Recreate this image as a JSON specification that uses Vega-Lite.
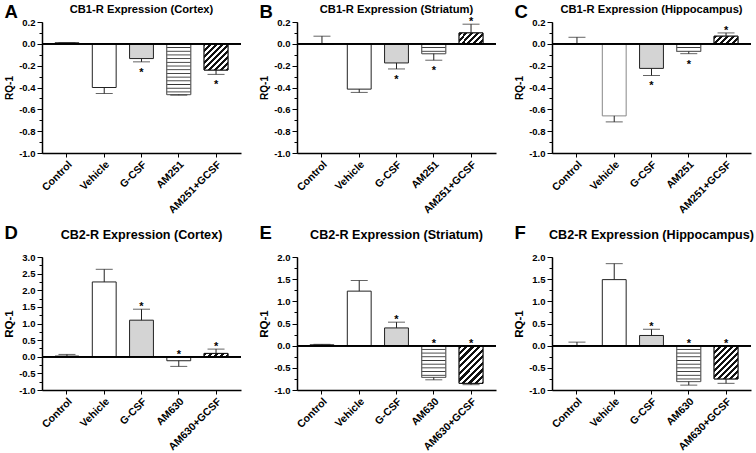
{
"$schema":"https://vega.github.io/schema/vega-lite/v6.json",
"padding":{"left":3,"top":2,"right":2,"bottom":0},
"params":[
{"name":"HS","value":[{"offset":0,"color":"#fff"},
{"offset":0.038,"color":"#fff"},{"offset":0.05,"color":"#333"},{"offset":0.062,"color":"#fff"},
{"offset":0.088,"color":"#fff"},{"offset":0.1,"color":"#333"},{"offset":0.112,"color":"#fff"},
{"offset":0.138,"color":"#fff"},{"offset":0.15,"color":"#333"},{"offset":0.162,"color":"#fff"},
{"offset":0.188,"color":"#fff"},{"offset":0.2,"color":"#333"},{"offset":0.212,"color":"#fff"},
{"offset":0.238,"color":"#fff"},{"offset":0.25,"color":"#333"},{"offset":0.262,"color":"#fff"},
{"offset":0.288,"color":"#fff"},{"offset":0.3,"color":"#333"},{"offset":0.312,"color":"#fff"},
{"offset":0.338,"color":"#fff"},{"offset":0.35,"color":"#333"},{"offset":0.362,"color":"#fff"},
{"offset":0.388,"color":"#fff"},{"offset":0.4,"color":"#333"},{"offset":0.412,"color":"#fff"},
{"offset":0.438,"color":"#fff"},{"offset":0.45,"color":"#333"},{"offset":0.462,"color":"#fff"},
{"offset":0.488,"color":"#fff"},{"offset":0.5,"color":"#333"},{"offset":0.512,"color":"#fff"},
{"offset":0.538,"color":"#fff"},{"offset":0.55,"color":"#333"},{"offset":0.562,"color":"#fff"},
{"offset":0.588,"color":"#fff"},{"offset":0.6,"color":"#333"},{"offset":0.612,"color":"#fff"},
{"offset":0.638,"color":"#fff"},{"offset":0.65,"color":"#333"},{"offset":0.662,"color":"#fff"},
{"offset":0.688,"color":"#fff"},{"offset":0.7,"color":"#333"},{"offset":0.712,"color":"#fff"},
{"offset":0.738,"color":"#fff"},{"offset":0.75,"color":"#333"},{"offset":0.762,"color":"#fff"},
{"offset":0.788,"color":"#fff"},{"offset":0.8,"color":"#333"},{"offset":0.812,"color":"#fff"},
{"offset":0.838,"color":"#fff"},{"offset":0.85,"color":"#333"},{"offset":0.862,"color":"#fff"},
{"offset":0.888,"color":"#fff"},{"offset":0.9,"color":"#333"},{"offset":0.912,"color":"#fff"},
{"offset":0.938,"color":"#fff"},{"offset":0.95,"color":"#333"},{"offset":0.962,"color":"#fff"},
{"offset":1,"color":"#fff"}]},
{"name":"DS","value":[
{"offset":0,"color":"#111"},{"offset":0.05,"color":"#111"},{"offset":0.05,"color":"#fff"},{"offset":0.1,"color":"#fff"},
{"offset":0.1,"color":"#111"},{"offset":0.15,"color":"#111"},{"offset":0.15,"color":"#fff"},{"offset":0.2,"color":"#fff"},
{"offset":0.2,"color":"#111"},{"offset":0.25,"color":"#111"},{"offset":0.25,"color":"#fff"},{"offset":0.3,"color":"#fff"},
{"offset":0.3,"color":"#111"},{"offset":0.35,"color":"#111"},{"offset":0.35,"color":"#fff"},{"offset":0.4,"color":"#fff"},
{"offset":0.4,"color":"#111"},{"offset":0.45,"color":"#111"},{"offset":0.45,"color":"#fff"},{"offset":0.5,"color":"#fff"},
{"offset":0.5,"color":"#111"},{"offset":0.55,"color":"#111"},{"offset":0.55,"color":"#fff"},{"offset":0.6,"color":"#fff"},
{"offset":0.6,"color":"#111"},{"offset":0.65,"color":"#111"},{"offset":0.65,"color":"#fff"},{"offset":0.7,"color":"#fff"},
{"offset":0.7,"color":"#111"},{"offset":0.75,"color":"#111"},{"offset":0.75,"color":"#fff"},{"offset":0.8,"color":"#fff"},
{"offset":0.8,"color":"#111"},{"offset":0.85,"color":"#111"},{"offset":0.85,"color":"#fff"},{"offset":0.9,"color":"#fff"},
{"offset":0.9,"color":"#111"},{"offset":0.95,"color":"#111"},{"offset":0.95,"color":"#fff"},{"offset":1,"color":"#fff"}]}
],
"data":{"values":[
{"panel":"A","group":"Control","value":0.01,"err":0.01,"star":""},
{"panel":"A","group":"Vehicle","value":-0.4,"err":-0.455,"star":""},
{"panel":"A","group":"G-CSF","value":-0.135,"err":-0.165,"star":"below"},
{"panel":"A","group":"AM251","value":-0.465,"err":-0.47,"star":""},
{"panel":"A","group":"AM251+GCSF","value":-0.24,"err":-0.28,"star":"below"},
{"panel":"B","group":"Control","value":0,"err":0.07,"star":""},
{"panel":"B","group":"Vehicle","value":-0.415,"err":-0.445,"star":""},
{"panel":"B","group":"G-CSF","value":-0.175,"err":-0.23,"star":"below"},
{"panel":"B","group":"AM251","value":-0.09,"err":-0.15,"star":"below"},
{"panel":"B","group":"AM251+GCSF","value":0.1,"err":0.18,"star":"above"},
{"panel":"C","group":"Control","value":0,"err":0.06,"star":""},
{"panel":"C","group":"Vehicle","value":-0.66,"err":-0.715,"star":""},
{"panel":"C","group":"G-CSF","value":-0.225,"err":-0.29,"star":"below"},
{"panel":"C","group":"AM251","value":-0.07,"err":-0.09,"star":"below"},
{"panel":"C","group":"AM251+GCSF","value":0.07,"err":0.1,"star":"above"},
{"panel":"D","group":"Control","value":0.02,"err":0.07,"star":""},
{"panel":"D","group":"Vehicle","value":2.25,"err":2.63,"star":""},
{"panel":"D","group":"G-CSF","value":1.1,"err":1.43,"star":"above"},
{"panel":"D","group":"AM630","value":-0.12,"err":-0.29,"star":"above"},
{"panel":"D","group":"AM630+GCSF","value":0.1,"err":0.23,"star":"above"},
{"panel":"E","group":"Control","value":0.02,"err":0.03,"star":""},
{"panel":"E","group":"Vehicle","value":1.23,"err":1.47,"star":""},
{"panel":"E","group":"G-CSF","value":0.4,"err":0.53,"star":"above"},
{"panel":"E","group":"AM630","value":-0.715,"err":-0.77,"star":"above"},
{"panel":"E","group":"AM630+GCSF","value":-0.85,"err":-0.88,"star":"above"},
{"panel":"F","group":"Control","value":0,"err":0.08,"star":""},
{"panel":"F","group":"Vehicle","value":1.49,"err":1.85,"star":""},
{"panel":"F","group":"G-CSF","value":0.23,"err":0.37,"star":"above"},
{"panel":"F","group":"AM630","value":-0.81,"err":-0.89,"star":"above"},
{"panel":"F","group":"AM630+GCSF","value":-0.75,"err":-0.85,"star":"above"}
]},
"columns":3,
"spacing":{"row":104,"column":56},
"bounds":"flush",
"concat":[
{"width":199,"height":131,
"title":{"text":"CB1-R Expression (Cortex)","frame":"group","offset":-13,"fontSize":11.2},
"transform":[{"filter":"datum.panel=='A'"},{"calculate":"datum.star=='above' ? max(datum.err,0) : datum.err","as":"sy"}],
"resolve":{"axis":{"y":"independent"}},
"layer":[
{"encoding":{
"x":{"field":"group","type":"nominal","scale":{"domain":["Control","Vehicle","G-CSF","AM251","AM251+GCSF"],"paddingInner":0.36,"paddingOuter":0.35},"axis":{"title":"A","titleX":-38,"titleY":-136}},
"y":{"field":"value","type":"quantitative","scale":{"domain":[-1,0.2],"nice":false,"zero":false},"axis":{"title":"RQ-1","titleFontSize":10,"values":[-1,-0.8,-0.6,-0.4,-0.2,0,0.2],"labelExpr":"(datum.value<0?'-':'') + format(abs(datum.value),'.1f')"}}},
"layer":[
{"mark":{"type":"bar","stroke":"#222","strokeWidth":1},"encoding":{"fill":{"condition":{"test":"datum.group=='G-CSF'","value":"#d4d4d4"},"value":"#ffffff"}}},
{"transform":[{"filter":"datum.group=='AM251'"}],"mark":{"type":"bar","stroke":"#666","strokeWidth":1,"fill":{"expr":"{gradient:'linear',x1:0,y1:0,x2:0,y2:1.457,stops:HS}"}}},
{"transform":[{"filter":"datum.group=='AM251+GCSF'"}],"mark":{"type":"bar","stroke":"#111","strokeWidth":1,"fill":{"expr":"{gradient:'linear',x1:0,y1:0,x2:1.141,y2:1.246,stops:DS}"}}},
{"mark":{"type":"rule","color":"#222"},"encoding":{"y2":{"field":"err"}}},
{"mark":{"type":"tick","color":"#222","thickness":1,"size":17},"encoding":{"y":{"field":"err","type":"quantitative"}}},
{"transform":[{"filter":"datum.star=='above'"}],"mark":{"type":"text","text":"*","baseline":"middle","dy":-2},"encoding":{"y":{"field":"sy","type":"quantitative"}}},
{"transform":[{"filter":"datum.star=='below'"}],"mark":{"type":"text","text":"*","baseline":"middle","dy":11},"encoding":{"y":{"field":"sy","type":"quantitative"}}}
]},
{"mark":{"type":"rule","color":"#000","strokeWidth":1.5},"encoding":{"y":{"datum":0,"type":"quantitative","axis":{"orient":"left","title":null,"labels":false,"domain":false,"tickSize":3,"values":[-1,-0.9,-0.8,-0.7,-0.6,-0.5,-0.4,-0.3,-0.2,-0.1,0,0.1,0.2]}}}}
]},
{"width":199,"height":131,
"title":{"text":"CB1-R Expression (Striatum)","frame":"group","offset":-13,"fontSize":11.2},
"transform":[{"filter":"datum.panel=='B'"},{"calculate":"datum.star=='above' ? max(datum.err,0) : datum.err","as":"sy"}],
"resolve":{"axis":{"y":"independent"}},
"layer":[
{"encoding":{
"x":{"field":"group","type":"nominal","scale":{"domain":["Control","Vehicle","G-CSF","AM251","AM251+GCSF"],"paddingInner":0.36,"paddingOuter":0.35},"axis":{"title":"B","titleX":-38,"titleY":-136}},
"y":{"field":"value","type":"quantitative","scale":{"domain":[-1,0.2],"nice":false,"zero":false},"axis":{"title":"RQ-1","titleFontSize":10,"values":[-1,-0.8,-0.6,-0.4,-0.2,0,0.2],"labelExpr":"(datum.value<0?'-':'') + format(abs(datum.value),'.1f')"}}},
"layer":[
{"mark":{"type":"bar","stroke":"#222","strokeWidth":1},"encoding":{"fill":{"condition":{"test":"datum.group=='G-CSF'","value":"#d4d4d4"},"value":"#ffffff"}}},
{"transform":[{"filter":"datum.group=='AM251'"}],"mark":{"type":"bar","stroke":"#666","strokeWidth":1,"fill":{"expr":"{gradient:'linear',x1:0,y1:0,x2:0,y2:7.55,stops:HS}"}}},
{"transform":[{"filter":"datum.group=='AM251+GCSF'"}],"mark":{"type":"bar","stroke":"#111","strokeWidth":1,"fill":{"expr":"{gradient:'linear',x1:0,y1:0,x2:2.072,y2:0.941,stops:DS}"}}},
{"mark":{"type":"rule","color":"#222"},"encoding":{"y2":{"field":"err"}}},
{"mark":{"type":"tick","color":"#222","thickness":1,"size":17},"encoding":{"y":{"field":"err","type":"quantitative"}}},
{"transform":[{"filter":"datum.star=='above'"}],"mark":{"type":"text","text":"*","baseline":"middle","dy":-2},"encoding":{"y":{"field":"sy","type":"quantitative"}}},
{"transform":[{"filter":"datum.star=='below'"}],"mark":{"type":"text","text":"*","baseline":"middle","dy":11},"encoding":{"y":{"field":"sy","type":"quantitative"}}}
]},
{"mark":{"type":"rule","color":"#000","strokeWidth":1.5},"encoding":{"y":{"datum":0,"type":"quantitative","axis":{"orient":"left","title":null,"labels":false,"domain":false,"tickSize":3,"values":[-1,-0.9,-0.8,-0.7,-0.6,-0.5,-0.4,-0.3,-0.2,-0.1,0,0.1,0.2]}}}}
]},
{"width":199,"height":131,
"title":{"text":"CB1-R Expression (Hippocampus)","frame":"group","offset":-13,"fontSize":11.2},
"transform":[{"filter":"datum.panel=='C'"},{"calculate":"datum.star=='above' ? max(datum.err,0) : datum.err","as":"sy"}],
"resolve":{"axis":{"y":"independent"}},
"layer":[
{"encoding":{
"x":{"field":"group","type":"nominal","scale":{"domain":["Control","Vehicle","G-CSF","AM251","AM251+GCSF"],"paddingInner":0.36,"paddingOuter":0.35},"axis":{"title":"C","titleX":-38,"titleY":-136}},
"y":{"field":"value","type":"quantitative","scale":{"domain":[-1,0.2],"nice":false,"zero":false},"axis":{"title":"RQ-1","titleFontSize":10,"values":[-1,-0.8,-0.6,-0.4,-0.2,0,0.2],"labelExpr":"(datum.value<0?'-':'') + format(abs(datum.value),'.1f')"}}},
"layer":[
{"mark":{"type":"bar","stroke":"#222","strokeWidth":1},"encoding":{"fill":{"condition":{"test":"datum.group=='G-CSF'","value":"#d4d4d4"},"value":"#ffffff"},"stroke":{"condition":{"test":"datum.group=='Vehicle'","value":"#888"},"value":"#222"}}},
{"transform":[{"filter":"datum.group=='AM251'"}],"mark":{"type":"bar","stroke":"#666","strokeWidth":1,"fill":{"expr":"{gradient:'linear',x1:0,y1:0,x2:0,y2:9.7,stops:HS}"}}},
{"transform":[{"filter":"datum.group=='AM251+GCSF'"}],"mark":{"type":"bar","stroke":"#111","strokeWidth":1,"fill":{"expr":"{gradient:'linear',x1:0,y1:0,x2:2.271,y2:0.719,stops:DS}"}}},
{"mark":{"type":"rule","color":"#222"},"encoding":{"y2":{"field":"err"}}},
{"mark":{"type":"tick","color":"#222","thickness":1,"size":17},"encoding":{"y":{"field":"err","type":"quantitative"}}},
{"transform":[{"filter":"datum.star=='above'"}],"mark":{"type":"text","text":"*","baseline":"middle","dy":-2},"encoding":{"y":{"field":"sy","type":"quantitative"}}},
{"transform":[{"filter":"datum.star=='below'"}],"mark":{"type":"text","text":"*","baseline":"middle","dy":11},"encoding":{"y":{"field":"sy","type":"quantitative"}}}
]},
{"mark":{"type":"rule","color":"#000","strokeWidth":1.5},"encoding":{"y":{"datum":0,"type":"quantitative","axis":{"orient":"left","title":null,"labels":false,"domain":false,"tickSize":3,"values":[-1,-0.9,-0.8,-0.7,-0.6,-0.5,-0.4,-0.3,-0.2,-0.1,0,0.1,0.2]}}}}
]},
{"width":199,"height":133,
"title":{"text":"CB2-R Expression (Cortex)","frame":"group","offset":-19,"fontSize":12.6},
"transform":[{"filter":"datum.panel=='D'"},{"calculate":"datum.star=='above' ? max(datum.err,0) : datum.err","as":"sy"}],
"resolve":{"axis":{"y":"independent"}},
"layer":[
{"encoding":{
"x":{"field":"group","type":"nominal","scale":{"domain":["Control","Vehicle","G-CSF","AM630","AM630+GCSF"],"paddingInner":0.36,"paddingOuter":0.35},"axis":{"title":"D","titleX":-38,"titleY":-152}},
"y":{"field":"value","type":"quantitative","scale":{"domain":[-1,3],"nice":false,"zero":false},"axis":{"title":"RQ-1","titleFontSize":11.5,"values":[-1,-0.5,0,0.5,1,1.5,2,2.5,3],"labelExpr":"(datum.value<0?'-':'') + format(abs(datum.value),'.1f')"}}},
"layer":[
{"mark":{"type":"bar","stroke":"#222","strokeWidth":1},"encoding":{"fill":{"condition":{"test":"datum.group=='G-CSF'","value":"#d4d4d4"},"value":"#ffffff"}}},
{"transform":[{"filter":"datum.group=='AM630+GCSF'"}],"mark":{"type":"bar","stroke":"#111","strokeWidth":1,"fill":{"expr":"{gradient:'linear',x1:0,y1:0,x2:2.453,y2:0.337,stops:DS}"}}},
{"mark":{"type":"rule","color":"#222"},"encoding":{"y2":{"field":"err"}}},
{"mark":{"type":"tick","color":"#222","thickness":1,"size":17},"encoding":{"y":{"field":"err","type":"quantitative"}}},
{"transform":[{"filter":"datum.star=='above'"}],"mark":{"type":"text","text":"*","baseline":"middle","dy":-2},"encoding":{"y":{"field":"sy","type":"quantitative"}}},
{"transform":[{"filter":"datum.star=='below'"}],"mark":{"type":"text","text":"*","baseline":"middle","dy":11},"encoding":{"y":{"field":"sy","type":"quantitative"}}}
]},
{"mark":{"type":"rule","color":"#000","strokeWidth":1.5},"encoding":{"y":{"datum":0,"type":"quantitative","axis":{"orient":"left","title":null,"labels":false,"domain":false,"tickSize":3,"values":[-1,-0.75,-0.5,-0.25,0,0.25,0.5,0.75,1,1.25,1.5,1.75,2,2.25,2.5,2.75,3]}}}}
]},
{"width":199,"height":133,
"title":{"text":"CB2-R Expression (Striatum)","frame":"group","offset":-19,"fontSize":12.6},
"transform":[{"filter":"datum.panel=='E'"},{"calculate":"datum.star=='above' ? max(datum.err,0) : datum.err","as":"sy"}],
"resolve":{"axis":{"y":"independent"}},
"layer":[
{"encoding":{
"x":{"field":"group","type":"nominal","scale":{"domain":["Control","Vehicle","G-CSF","AM630","AM630+GCSF"],"paddingInner":0.36,"paddingOuter":0.35},"axis":{"title":"E","titleX":-38,"titleY":-152}},
"y":{"field":"value","type":"quantitative","scale":{"domain":[-1,2],"nice":false,"zero":false},"axis":{"title":"RQ-1","titleFontSize":11.5,"values":[-1,-0.5,0,0.5,1,1.5,2],"labelExpr":"(datum.value<0?'-':'') + format(abs(datum.value),'.1f')"}}},
"layer":[
{"mark":{"type":"bar","stroke":"#222","strokeWidth":1},"encoding":{"fill":{"condition":{"test":"datum.group=='G-CSF'","value":"#d4d4d4"},"value":"#ffffff"}}},
{"transform":[{"filter":"datum.group=='AM630'"}],"mark":{"type":"bar","stroke":"#666","strokeWidth":1,"fill":{"expr":"{gradient:'linear',x1:0,y1:0,x2:0,y2:2.334,stops:HS}"}}},
{"transform":[{"filter":"datum.group=='AM630+GCSF'"}],"mark":{"type":"bar","stroke":"#111","strokeWidth":1,"fill":{"expr":"{gradient:'linear',x1:0,y1:0,x2:0.793,y2:1.246,stops:DS}"}}},
{"mark":{"type":"rule","color":"#222"},"encoding":{"y2":{"field":"err"}}},
{"mark":{"type":"tick","color":"#222","thickness":1,"size":17},"encoding":{"y":{"field":"err","type":"quantitative"}}},
{"transform":[{"filter":"datum.star=='above'"}],"mark":{"type":"text","text":"*","baseline":"middle","dy":-2},"encoding":{"y":{"field":"sy","type":"quantitative"}}},
{"transform":[{"filter":"datum.star=='below'"}],"mark":{"type":"text","text":"*","baseline":"middle","dy":11},"encoding":{"y":{"field":"sy","type":"quantitative"}}}
]},
{"mark":{"type":"rule","color":"#000","strokeWidth":1.5},"encoding":{"y":{"datum":0,"type":"quantitative","axis":{"orient":"left","title":null,"labels":false,"domain":false,"tickSize":3,"values":[-1,-0.75,-0.5,-0.25,0,0.25,0.5,0.75,1,1.25,1.5,1.75,2]}}}}
]},
{"width":199,"height":133,
"title":{"text":"CB2-R Expression (Hippocampus)","frame":"group","offset":-19,"fontSize":12.6},
"transform":[{"filter":"datum.panel=='F'"},{"calculate":"datum.star=='above' ? max(datum.err,0) : datum.err","as":"sy"}],
"resolve":{"axis":{"y":"independent"}},
"layer":[
{"encoding":{
"x":{"field":"group","type":"nominal","scale":{"domain":["Control","Vehicle","G-CSF","AM630","AM630+GCSF"],"paddingInner":0.36,"paddingOuter":0.35},"axis":{"title":"F","titleX":-38,"titleY":-152}},
"y":{"field":"value","type":"quantitative","scale":{"domain":[-1,2],"nice":false,"zero":false},"axis":{"title":"RQ-1","titleFontSize":11.5,"values":[-1,-0.5,0,0.5,1,1.5,2],"labelExpr":"(datum.value<0?'-':'') + format(abs(datum.value),'.1f')"}}},
"layer":[
{"mark":{"type":"bar","stroke":"#222","strokeWidth":1},"encoding":{"fill":{"condition":{"test":"datum.group=='G-CSF'","value":"#d4d4d4"},"value":"#ffffff"}}},
{"transform":[{"filter":"datum.group=='AM630'"}],"mark":{"type":"bar","stroke":"#666","strokeWidth":1,"fill":{"expr":"{gradient:'linear',x1:0,y1:0,x2:0,y2:2.061,stops:HS}"}}},
{"transform":[{"filter":"datum.group=='AM630+GCSF'"}],"mark":{"type":"bar","stroke":"#111","strokeWidth":1,"fill":{"expr":"{gradient:'linear',x1:0,y1:0,x2:0.858,y2:1.187,stops:DS}"}}},
{"mark":{"type":"rule","color":"#222"},"encoding":{"y2":{"field":"err"}}},
{"mark":{"type":"tick","color":"#222","thickness":1,"size":17},"encoding":{"y":{"field":"err","type":"quantitative"}}},
{"transform":[{"filter":"datum.star=='above'"}],"mark":{"type":"text","text":"*","baseline":"middle","dy":-2},"encoding":{"y":{"field":"sy","type":"quantitative"}}},
{"transform":[{"filter":"datum.star=='below'"}],"mark":{"type":"text","text":"*","baseline":"middle","dy":11},"encoding":{"y":{"field":"sy","type":"quantitative"}}}
]},
{"mark":{"type":"rule","color":"#000","strokeWidth":1.5},"encoding":{"y":{"datum":0,"type":"quantitative","axis":{"orient":"left","title":null,"labels":false,"domain":false,"tickSize":3,"values":[-1,-0.75,-0.5,-0.25,0,0.25,0.5,0.75,1,1.25,1.5,1.75,2]}}}}
]}
],
"config":{
"font":"Liberation Sans",
"view":{"stroke":null},
"axis":{"domainColor":"#000","tickColor":"#000","labelColor":"#000","titleColor":"#000","labelFontWeight":"bold","titleFontWeight":"bold","grid":false,"labelFont":"Liberation Sans","titleFont":"Liberation Sans"},
"axisX":{"labelAngle":-45,"labelFontSize":10.5,"tickSize":4,"domainWidth":1.5,"labelPadding":2,"titleFontSize":18.5,"titleAngle":0,"titleAlign":"left","titleBaseline":"alphabetic"},
"axisY":{"labelFontSize":9.5,"domainWidth":1.5,"titleFontSize":11,"labelOverlap":false,"labelPadding":2,"titlePadding":4,"tickSize":5},
"title":{"fontSize":11,"fontWeight":"bold","color":"#000","font":"Liberation Sans"},
"text":{"font":"Liberation Sans","fontSize":11,"fontWeight":"bold","color":"#000"}
}
}
